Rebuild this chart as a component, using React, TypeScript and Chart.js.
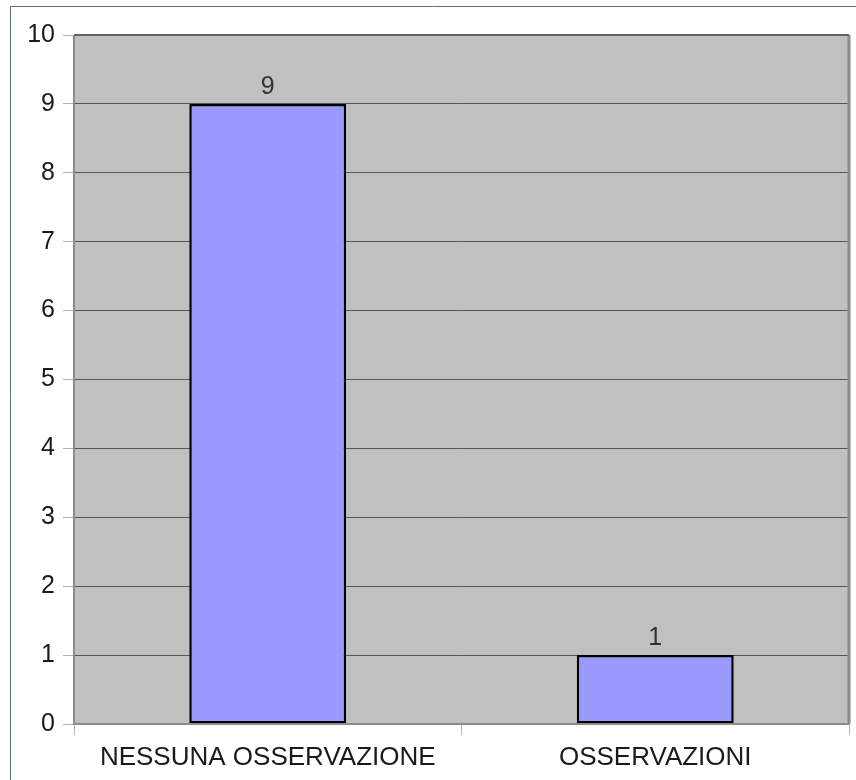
import React, { useEffect, useRef } from "react";
import { Chart, registerables } from "chart.js";

Chart.register(...registerables);

const categories = ["NESSUNA OSSERVAZIONE", "OSSERVAZIONI"];
const values = [9, 1];
const yTicks = [0, 1, 2, 3, 4, 5, 6, 7, 8, 9, 10];

const FONT = "'Liberation Sans', Arial, sans-serif";

const framePlugin = {
  id: "frame",
  beforeDraw(chart: any) {
    const { ctx, chartArea } = chart;
    const { left, top, right, bottom } = chartArea;
    ctx.save();
    ctx.fillStyle = "#ffffff";
    ctx.fillRect(0, 0, chart.width, chart.height);
    ctx.strokeStyle = "#5f6f80";
    ctx.lineWidth = 1;
    ctx.beginPath();
    ctx.moveTo(10.5, chart.height);
    ctx.lineTo(10.5, 6.5);
    ctx.lineTo(chart.width, 6.5);
    ctx.stroke();
    ctx.fillStyle = "#c0c0c0";
    ctx.fillRect(left, top, right - left, bottom - top);
    ctx.restore();
  },
  afterDatasetsDraw(chart: any) {
    const { ctx, chartArea } = chart;
    const { left, top, right, bottom } = chartArea;
    ctx.save();
    ctx.strokeStyle = "#8c8c8c";
    ctx.lineWidth = 2;
    ctx.beginPath();
    ctx.moveTo(left, top);
    ctx.lineTo(left, bottom);
    ctx.lineTo(right, bottom);
    ctx.stroke();
    ctx.lineWidth = 3;
    ctx.beginPath();
    ctx.moveTo(right, top);
    ctx.lineTo(right, bottom);
    ctx.stroke();
    ctx.strokeStyle = "#606060";
    ctx.lineWidth = 2;
    ctx.beginPath();
    ctx.moveTo(left, top);
    ctx.lineTo(right, top);
    ctx.stroke();
    const meta = chart.getDatasetMeta(0);
    ctx.fillStyle = "#333333";
    ctx.font = `25px ${FONT}`;
    ctx.textAlign = "center";
    ctx.textBaseline = "alphabetic";
    meta.data.forEach((bar: any, i: number) => {
      ctx.fillText(String(values[i]), bar.x, bar.y - 10);
    });
    ctx.restore();
  },
};

export default function App() {
  const ref = useRef<HTMLCanvasElement | null>(null);
  useEffect(() => {
    if (!ref.current) return;
    const chart = new Chart(ref.current, {
      type: "bar",
      data: {
        labels: categories,
        datasets: [
          {
            data: values,
            backgroundColor: "#9999ff",
            borderColor: "#000000",
            borderWidth: 2.5,
            borderSkipped: false,
            barPercentage: 0.405,
            categoryPercentage: 1,
          },
        ],
      },
      options: {
        responsive: false,
        animation: false,
        devicePixelRatio: 1,
        layout: { padding: { left: 0, top: 35, right: 7, bottom: 0 } },
        plugins: {
          legend: { display: false },
          tooltip: { enabled: false },
        },
        scales: {
          x: {
            grid: {
              display: true,
              drawOnChartArea: false,
              drawTicks: true,
              tickLength: 11,
              tickColor: "#b3b3b3",
              offset: true,
            },
            border: { display: false },
            ticks: {
              color: "#1a1a1a",
              font: { family: FONT, size: 26 },
              padding: 7,
              maxRotation: 0,
              autoSkip: false,
            },
            afterFit(scale: any) {
              scale.height = 56;
            },
          },
          y: {
            min: 0,
            max: 10,
            afterBuildTicks(scale: any) {
              scale.ticks = yTicks.map((v) => ({ value: v }));
            },
            grid: {
              color: "#555555",
              tickColor: "#b3b3b3",
              tickLength: 11,
              drawTicks: true,
            },
            border: { display: false },
            ticks: {
              color: "#1a1a1a",
              font: { family: FONT, size: 25 },
              padding: 8,
            },
            afterFit(scale: any) {
              scale.width = 74;
            },
          },
        },
      },
      plugins: [framePlugin],
    });
    return () => chart.destroy();
  }, []);
  return (
    <div style={{ position: "absolute", left: 0, top: 0, width: 856, height: 780 }}>
      <canvas ref={ref} width={856} height={780} style={{ display: "block" }} />
    </div>
  );
}
